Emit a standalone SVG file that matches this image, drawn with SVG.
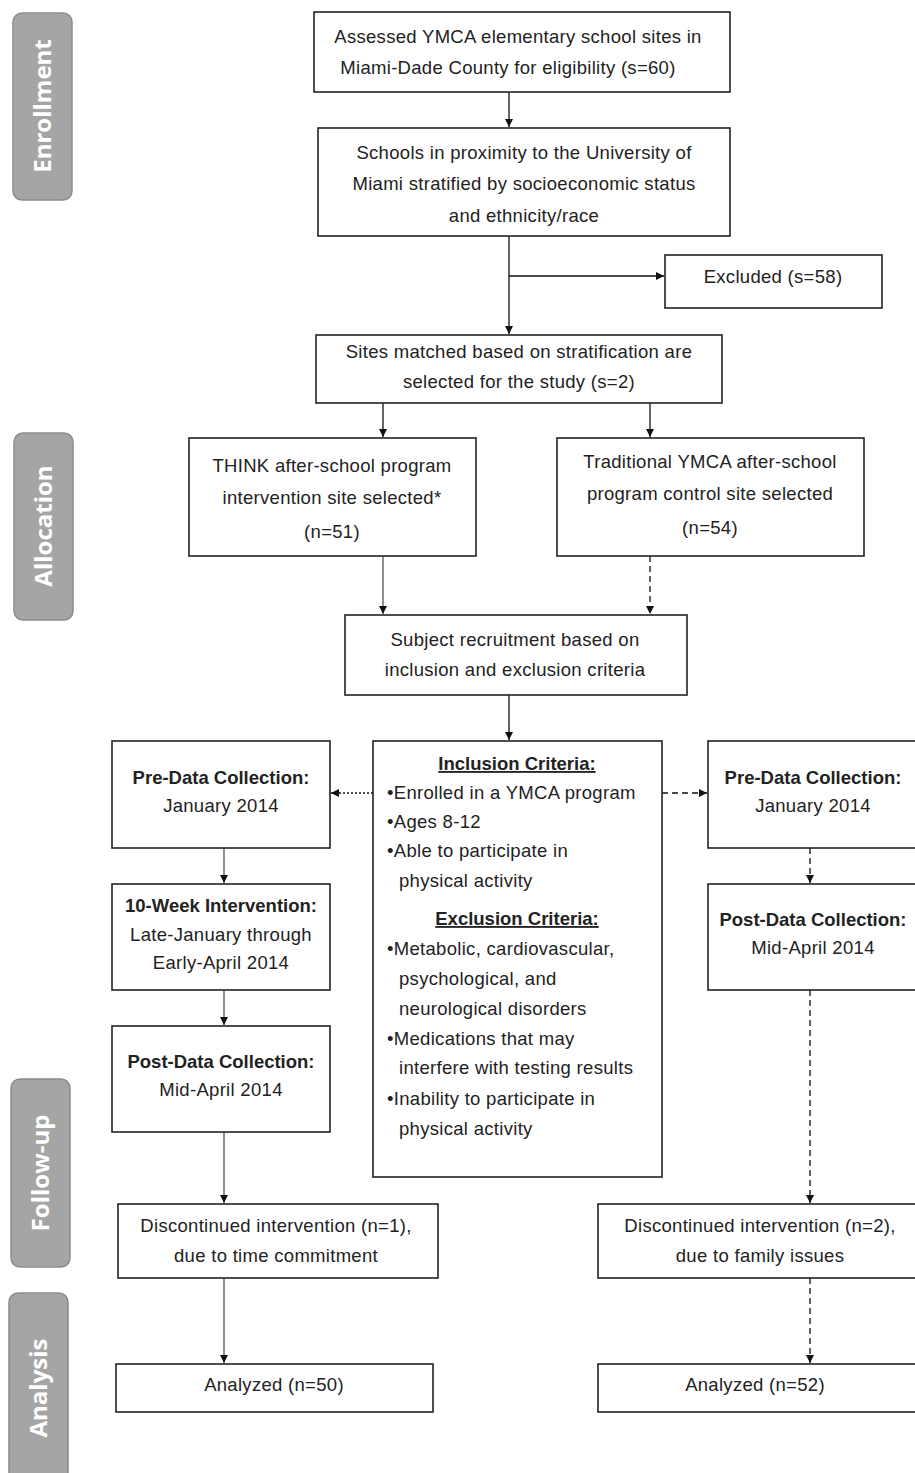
<svg xmlns="http://www.w3.org/2000/svg" width="915" height="1473" viewBox="0 0 915 1473">
<style>
.box{fill:#fff;stroke:#222;stroke-width:1.6}
.phase{fill:#a5a5a5;stroke:#8c8c8c;stroke-width:1.5}
.pt{font-family:"Open Sans","Liberation Sans",sans-serif;font-weight:bold;font-size:24px;fill:#fff;text-anchor:middle}
.t{font-family:"Liberation Sans","Open Sans",sans-serif;font-size:18.5px;letter-spacing:0.3px;fill:#222;text-anchor:middle}
.b{font-weight:bold;letter-spacing:0}
.l{text-anchor:start}
.u{text-decoration:underline}
.c{fill:none;stroke:#111;stroke-width:1.3}
.g{stroke:#555}
.d{stroke-dasharray:6,4}
.dot{stroke-dasharray:2,2}
</style>
<defs>
<marker id="ah" viewBox="0 0 10 10" refX="10" refY="5" markerWidth="8" markerHeight="8" markerUnits="userSpaceOnUse" orient="auto"><path d="M0,0L10,5L0,10z" fill="#111"/></marker>
</defs>

<g id="phases">
<g id="ph-enroll"><rect class="phase" x="13" y="13" width="59" height="187" rx="9"/><text class="pt" transform="translate(51,106) rotate(-90)">Enrollment</text></g>
<g id="ph-alloc"><rect class="phase" x="14" y="433" width="59" height="187" rx="9"/><text class="pt" transform="translate(52,526) rotate(-90)">Allocation</text></g>
<g id="ph-follow"><rect class="phase" x="11" y="1079" width="59" height="188" rx="9"/><text class="pt" transform="translate(49,1173) rotate(-90)">Follow-up</text></g>
<g id="ph-analysis"><rect class="phase" x="9" y="1293" width="59" height="200" rx="9"/><text class="pt" transform="translate(47,1388) rotate(-90)">Analysis</text></g>
</g>

<g id="connectors">
<line class="c" x1="509" y1="92" x2="509" y2="127" marker-end="url(#ah)"/>
<line class="c" x1="509" y1="236" x2="509" y2="334" marker-end="url(#ah)"/>
<line class="c" x1="509" y1="276" x2="664" y2="276" marker-end="url(#ah)"/>
<line class="c" x1="383" y1="403" x2="383" y2="437" marker-end="url(#ah)"/>
<line class="c" x1="650" y1="403" x2="650" y2="437" marker-end="url(#ah)"/>
<line class="c g" x1="383" y1="556" x2="383" y2="614" marker-end="url(#ah)"/>
<line class="c d" x1="650" y1="556" x2="650" y2="614" marker-end="url(#ah)"/>
<line class="c" x1="509" y1="695" x2="509" y2="740" marker-end="url(#ah)"/>
<line class="c dot" x1="373" y1="793" x2="331" y2="793" marker-end="url(#ah)"/>
<line class="c d" x1="662" y1="793" x2="707" y2="793" marker-end="url(#ah)"/>
<line class="c g" x1="224" y1="848" x2="224" y2="883" marker-end="url(#ah)"/>
<line class="c g" x1="224" y1="990" x2="224" y2="1025" marker-end="url(#ah)"/>
<line class="c g" x1="224" y1="1132" x2="224" y2="1203" marker-end="url(#ah)"/>
<line class="c g" x1="224" y1="1278" x2="224" y2="1363" marker-end="url(#ah)"/>
<line class="c d" x1="810" y1="848" x2="810" y2="883" marker-end="url(#ah)"/>
<line class="c d" x1="810" y1="990" x2="810" y2="1203" marker-end="url(#ah)"/>
<line class="c d" x1="810" y1="1278" x2="810" y2="1363" marker-end="url(#ah)"/>
</g>

<g id="n1"><rect class="box" x="314" y="12" width="416" height="80"/>
<text class="t" x="518" y="43">Assessed YMCA elementary school sites in</text>
<text class="t" x="508" y="74">Miami-Dade County for eligibility (s=60)</text></g>

<g id="n2"><rect class="box" x="318" y="128" width="412" height="108"/>
<text class="t" x="524" y="159">Schools in proximity to the University of</text>
<text class="t" x="524" y="190">Miami stratified by socioeconomic status</text>
<text class="t" x="524" y="222">and ethnicity/race</text></g>

<g id="n-excl"><rect class="box" x="665" y="255" width="217" height="53"/>
<text class="t" x="773" y="283">Excluded (s=58)</text></g>

<g id="n3"><rect class="box" x="316" y="335" width="406" height="68"/>
<text class="t" x="519" y="358">Sites matched based on stratification are</text>
<text class="t" x="519" y="388">selected for the study (s=2)</text></g>

<g id="n-think"><rect class="box" x="189" y="438" width="287" height="118"/>
<text class="t" x="332" y="472">THINK after-school program</text>
<text class="t" x="332" y="504">intervention site selected*</text>
<text class="t" x="332" y="538">(n=51)</text></g>

<g id="n-trad"><rect class="box" x="557" y="438" width="307" height="118"/>
<text class="t" x="710" y="468">Traditional YMCA after-school</text>
<text class="t" x="710" y="500">program control site selected</text>
<text class="t" x="710" y="534">(n=54)</text></g>

<g id="n-recruit"><rect class="box" x="345" y="615" width="342" height="80"/>
<text class="t" x="515" y="646">Subject recruitment based on</text>
<text class="t" x="515" y="676">inclusion and exclusion criteria</text></g>

<g id="n-criteria"><rect class="box" x="373" y="741" width="289" height="436"/>
<text class="t b u" x="517" y="770">Inclusion Criteria:</text>
<text class="t l" x="387" y="799">•Enrolled in a YMCA program</text>
<text class="t l" x="387" y="828">•Ages 8-12</text>
<text class="t l" x="387" y="857">•Able to participate in</text>
<text class="t l" x="399" y="887">physical activity</text>
<text class="t b u" x="517" y="925">Exclusion Criteria:</text>
<text class="t l" x="387" y="955">•Metabolic, cardiovascular,</text>
<text class="t l" x="399" y="985">psychological, and</text>
<text class="t l" x="399" y="1015">neurological disorders</text>
<text class="t l" x="387" y="1045">•Medications that may</text>
<text class="t l" x="399" y="1074">interfere with testing results</text>
<text class="t l" x="387" y="1105">•Inability to participate in</text>
<text class="t l" x="399" y="1135">physical activity</text></g>

<g id="n-pre-l"><rect class="box" x="112" y="741" width="218" height="107"/>
<text class="t b" x="221" y="784">Pre-Data Collection:</text>
<text class="t" x="221" y="812">January 2014</text></g>

<g id="n-week"><rect class="box" x="112" y="884" width="218" height="106"/>
<text class="t b" x="221" y="912">10-Week Intervention:</text>
<text class="t" x="221" y="941">Late-January through</text>
<text class="t" x="221" y="969">Early-April 2014</text></g>

<g id="n-post-l"><rect class="box" x="112" y="1026" width="218" height="106"/>
<text class="t b" x="221" y="1068">Post-Data Collection:</text>
<text class="t" x="221" y="1096">Mid-April 2014</text></g>

<g id="n-pre-r"><rect class="box" x="708" y="741" width="220" height="107"/>
<text class="t b" x="813" y="784">Pre-Data Collection:</text>
<text class="t" x="813" y="812">January 2014</text></g>

<g id="n-post-r"><rect class="box" x="708" y="884" width="220" height="106"/>
<text class="t b" x="813" y="926">Post-Data Collection:</text>
<text class="t" x="813" y="954">Mid-April 2014</text></g>

<g id="n-disc-l"><rect class="box" x="118" y="1204" width="320" height="74"/>
<text class="t" x="276" y="1232">Discontinued intervention (n=1),</text>
<text class="t" x="276" y="1262">due to time commitment</text></g>

<g id="n-disc-r"><rect class="box" x="598" y="1204" width="330" height="74"/>
<text class="t" x="760" y="1232">Discontinued intervention (n=2),</text>
<text class="t" x="760" y="1262">due to family issues</text></g>

<g id="n-an-l"><rect class="box" x="116" y="1364" width="317" height="48"/>
<text class="t" x="274" y="1391">Analyzed (n=50)</text></g>

<g id="n-an-r"><rect class="box" x="598" y="1364" width="330" height="48"/>
<text class="t" x="755" y="1391">Analyzed (n=52)</text></g>
</svg>
